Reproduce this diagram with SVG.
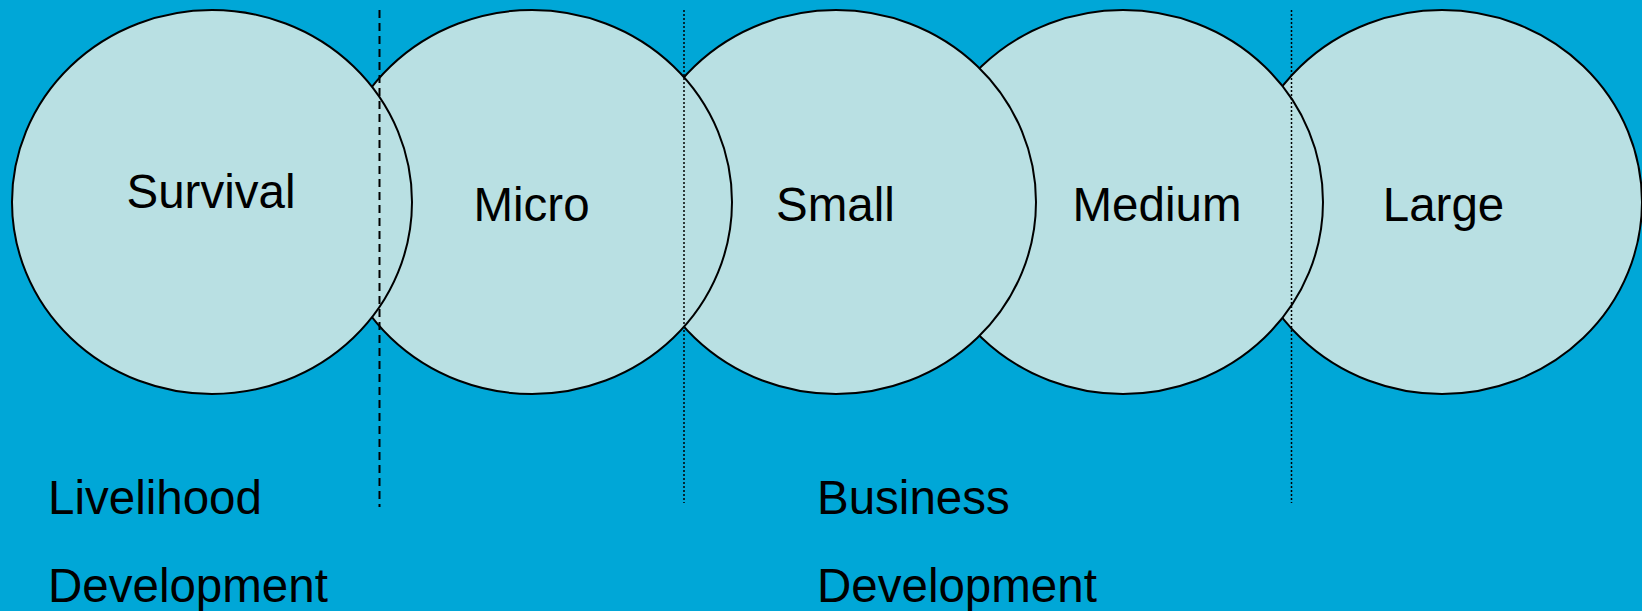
<svg xmlns="http://www.w3.org/2000/svg" width="1642" height="611" viewBox="0 0 1642 611">
<style>
.c{fill:#B9E0E3;stroke:#000;stroke-width:2}
.t{font-family:"Liberation Sans",Arial,sans-serif;font-size:47.5px;fill:#000}
.m{text-anchor:middle}
.dash{stroke:#000;stroke-width:2;stroke-dasharray:8,5;fill:none}
.dot{stroke:#000;stroke-width:1.5;stroke-dasharray:2,2;fill:none}
</style>
<rect width="1642" height="611" fill="#00A7D7"/>
<g id="large"><ellipse class="c" cx="1442" cy="202" rx="200" ry="192"/><text class="t m" x="1443.5" y="221">Large</text></g>
<g id="medium"><ellipse class="c" cx="1123" cy="202" rx="200" ry="192"/><text class="t m" x="1157" y="221">Medium</text></g>
<g id="small"><ellipse class="c" cx="836" cy="202" rx="200" ry="192"/><text class="t m" x="835.5" y="221">Small</text></g>
<g id="micro"><ellipse class="c" cx="532" cy="202" rx="200" ry="192"/><text class="t m" x="531.5" y="221">Micro</text></g>
<g id="survival"><ellipse class="c" cx="212" cy="202" rx="200" ry="192"/><text class="t m" x="211" y="208">Survival</text></g>
<g id="connectors">
<line class="dash" x1="379.5" y1="10" x2="379.5" y2="507"/>
<line class="dot" x1="684" y1="10" x2="684" y2="503"/>
<line class="dot" x1="1291.5" y1="10" x2="1291.5" y2="503"/>
</g>
<g id="labels">
<text class="t" x="48" y="514">Livelihood</text>
<text class="t" x="48" y="602">Development</text>
<text class="t" x="817" y="514">Business</text>
<text class="t" x="817" y="602">Development</text>
</g>
</svg>
